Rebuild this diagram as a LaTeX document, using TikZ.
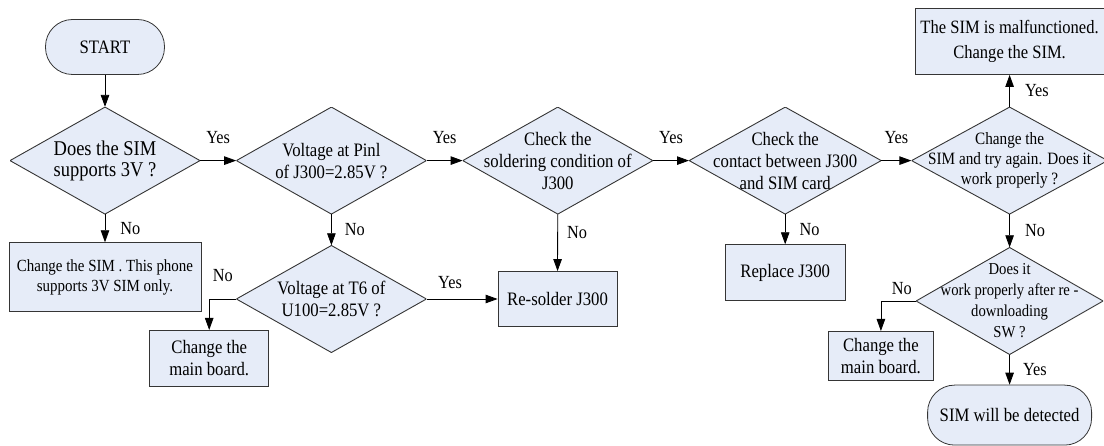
\documentclass[tikz,border=0pt]{standalone}
\usepackage{fontspec}
\setmainfont{Liberation Serif}[FakeStretch=0.88]
\usetikzlibrary{positioning,arrows.meta}
\definecolor{simfill}{HTML}{E6ECF8}
\definecolor{linegray}{HTML}{353535}

\begin{document}
\begin{tikzpicture}[
  x=1pt, y=1pt,
  font=\fontsize{19}{22}\selectfont,
  box/.style={rectangle, draw=linegray, line width=0.8pt, fill=simfill, align=center, inner sep=2pt},
  term/.style={box, rounded corners=27pt},
  dec/.style={rectangle, align=center, inner sep=0pt, minimum width=190pt, minimum height=107pt,
    path picture={\draw[draw=linegray, line width=0.9pt, fill=simfill]
      (path picture bounding box.north) -- (path picture bounding box.east) --
      (path picture bounding box.south) -- (path picture bounding box.west) -- cycle;}},
  lbl/.style={font=\fontsize{18.5}{20}\selectfont, inner sep=1pt},
  arr/.style={-{Triangle[length=12pt, width=8.5pt]}, line width=0.8pt, draw=black},
]
\useasboundingbox (0,0) rectangle (1104,-446);
\node[term, minimum width=119pt, minimum height=55pt] (start) at (105,-47) {START};
\node[dec, below=32pt of start, font=\fontsize{21}{21}\selectfont] (simv) {Does the SIM\\supports 3V ?};
\node[box, below=28pt of simv, minimum width=192pt, minimum height=69pt, font=\fontsize{17}{20}\selectfont] (chsim) {Change the SIM . This phone\\supports 3V SIM only.};
\node[dec, right=36pt of simv] (pinv) {Voltage at Pinl\\of J300=2.85V ?};
\node[dec, below=31pt of pinv] (tsix) {Voltage at T6 of\\U100=2.85V ?};
\node[box, below=31pt of tsix.west, xshift=-27pt, minimum width=119pt, minimum height=56pt] (board1) {Change the\\main board.};
\node[box, right=71pt of tsix, minimum width=119pt, minimum height=55pt] (resold) {Re-solder J300};
\node[dec, right=36pt of pinv] (solder) {Check the\\soldering condition of\\J300};
\node[dec, right=36pt of solder, minimum width=192pt] (contact) {Check the\\contact between J300\\and SIM card};
\node[box, below=30pt of contact, minimum width=120pt, minimum height=56pt] (replace) {Replace J300};
\node[dec, right=30pt of contact, minimum width=196pt, font=\fontsize{17.3}{20}\selectfont] (retry) {Change the\\SIM and try again. Does it\\work properly ?};
\node[box, above=32pt of retry, minimum width=189pt, minimum height=66pt, font=\fontsize{18.8}{25}\selectfont] (malf) {The SIM is malfunctioned.\\Change the SIM.};
\node[dec, below=33pt of retry, minimum width=187pt, font=\fontsize{16.7}{21}\selectfont] (reload) {Does it\\work properly after re -\\downloading\\SW ?};
\node[box, below=30pt of reload.west, xshift=-35pt, minimum width=105pt, minimum height=49pt] (board2) {Change the\\main board.};
\node[term, below=30pt of reload, minimum width=164pt, minimum height=60pt] (detect) {SIM will be detected};

\draw[arr] (start) -- (simv);
\draw[arr] (simv) -- node[lbl, above=16pt] {Yes} (pinv);
\draw[arr] (simv) -- node[lbl, right=14pt] {No} (chsim);
\draw[arr] (pinv) -- node[lbl, above=16pt] {Yes} (solder);
\draw[arr] (pinv) -- node[lbl, right=12pt] {No} (tsix);
\draw[arr] (tsix.west) -| node[lbl, above=16pt, pos=0.25] {No} (board1.north);
\draw[arr] (tsix) -- node[lbl, above=9pt, pos=0.33] {Yes} (resold);
\draw[arr] (solder) -- node[lbl, right=8pt, pos=0.32] {No} (resold);
\draw[arr] (solder) -- node[lbl, above=16pt] {Yes} (contact);
\draw[arr] (contact) -- node[lbl, right=13pt] {No} (replace);
\draw[arr] (contact) -- node[lbl, above=16pt] {Yes} (retry);
\draw[arr] (retry) -- node[lbl, right=14pt] {Yes} (malf);
\draw[arr] (retry) -- node[lbl, right=14pt] {No} (reload);
\draw[arr] (reload.west) -| node[lbl, above=5pt, pos=0.2] {No} (board2.north);
\draw[arr] (reload) -- node[lbl, right=12pt] {Yes} (detect);
\end{tikzpicture}
\end{document}
